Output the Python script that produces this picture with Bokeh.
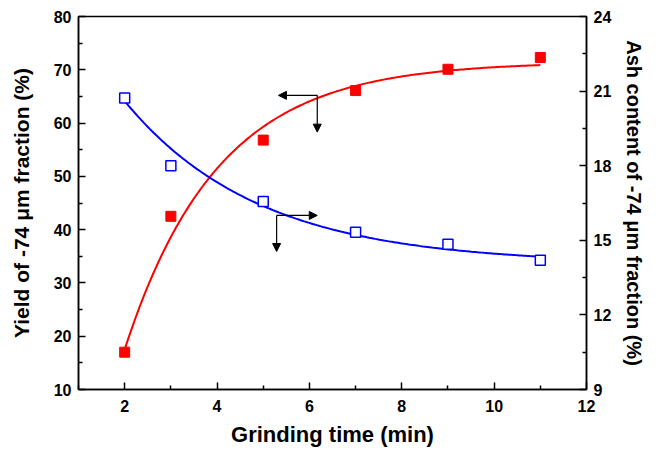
import numpy as np
from bokeh.plotting import figure
from bokeh.models import Range1d, LinearAxis, FixedTicker, Arrow, NormalHead, ColumnDataSource
from bokeh.embed import file_html
from bokeh.resources import INLINE

# ---- data ----
grinding_time = [2, 3, 5, 7, 9, 11]
yield_pct = [17.0, 42.5, 56.8, 66.1, 70.1, 72.3]          # left axis, red filled squares
ash_pct = [20.72, 18.0, 16.56, 15.32, 14.84, 14.2]        # right axis, blue open squares

# fitted exponential curves (parameters estimated from the drawn fit lines)
yield_fit = dict(A=71.5, B=54.0, k=0.496, x0=2.0)          # y = A - B*exp(-k(x-x0))
ash_fit = dict(C=14.05, D=6.55, m=0.345, x0=2.0)           # y = C + D*exp(-m(x-x0))

x_ticks = [2, 4, 6, 8, 10, 12]
x_minor = [1, 3, 5, 7, 9, 11]
left_ticks = [10, 20, 30, 40, 50, 60, 70, 80]
left_minor = [15, 25, 35, 45, 55, 65, 75]
right_ticks = [9, 12, 15, 18, 21, 24]
right_minor = [10.5, 13.5, 16.5, 19.5, 22.5]

FONT = "Liberation Sans"

p = figure(width=658, height=449, x_range=Range1d(1, 12), y_range=Range1d(10, 80),
           output_backend="svg", toolbar_location=None,
           min_border_left=78, min_border_right=72, min_border_top=16, min_border_bottom=58)
p.extra_y_ranges = {"ash": Range1d(9, 24)}
p.grid.visible = False
p.outline_line_color = "black"
p.outline_line_width = 1.5
p.background_fill_color = "white"
p.border_fill_color = "white"


def style_axis(ax, ticks, minor, title_size):
    ax.ticker = FixedTicker(ticks=ticks, minor_ticks=minor)
    ax.axis_line_color = "black"
    ax.axis_line_width = 1.5
    ax.major_tick_in = 7
    ax.major_tick_out = 0
    ax.minor_tick_in = 4
    ax.minor_tick_out = 0
    ax.major_tick_line_width = 1.5
    ax.minor_tick_line_width = 1.5
    ax.major_label_text_font = FONT
    ax.major_label_text_font_style = "bold"
    ax.major_label_text_font_size = "16px"
    ax.major_label_text_color = "black"
    ax.axis_label_text_font = FONT
    ax.axis_label_text_font_style = "bold"
    ax.axis_label_text_font_size = title_size
    ax.axis_label_text_color = "black"


xa = p.xaxis[0]
style_axis(xa, x_ticks, x_minor, "22px")
xa.axis_label = "Grinding time (min)"
xa.major_label_standoff = 10
xa.axis_label_standoff = 7

ya = p.yaxis[0]
style_axis(ya, left_ticks, left_minor, "21px")
ya.axis_label = "Yield of -74 μm fraction (%)"
ya.major_label_standoff = 7
ya.axis_label_standoff = 18

ra = LinearAxis(y_range_name="ash")
style_axis(ra, right_ticks, right_minor, "20px")
ra.axis_label = "Ash content of -74 μm fraction (%)"
ra.major_label_standoff = 7
ra.axis_label_standoff = 9
p.add_layout(ra, "right")

# fitted curves
xf = np.linspace(2, 11, 200)
yf = yield_fit["A"] - yield_fit["B"] * np.exp(-yield_fit["k"] * (xf - yield_fit["x0"]))
af = ash_fit["C"] + ash_fit["D"] * np.exp(-ash_fit["m"] * (xf - ash_fit["x0"]))
p.line(xf, yf, line_color="#ff0000", line_width=2)
p.line(xf, af, line_color="#0000ff", line_width=2, y_range_name="ash")

src = ColumnDataSource(dict(t=grinding_time, y=yield_pct, a=ash_pct))
p.scatter("t", "y", source=src, marker="square", size=10, fill_color="#ff0000", line_color="#ff0000")
p.scatter("t", "a", source=src, marker="square", size=10, fill_color="white", line_color="#0000ff",
          line_width=1.5, y_range_name="ash")

# pointer arrows (annotation positions)
head = lambda: NormalHead(size=8, fill_color="black", line_color="black", line_width=1)
# red curve -> left axis
p.add_layout(Arrow(x_start=6.17, y_start=65.2, x_end=5.33, y_end=65.2, end=head(),
                   line_color="black", line_width=1.2))
p.add_layout(Arrow(x_start=6.17, y_start=65.2, x_end=6.17, y_end=58.3, end=head(),
                   line_color="black", line_width=1.2))
# blue curve -> right axis
p.add_layout(Arrow(x_start=5.29, y_start=16.0, x_end=6.17, y_end=16.0, end=head(),
                   line_color="black", line_width=1.2, y_range_name="ash"))
p.add_layout(Arrow(x_start=5.29, y_start=16.0, x_end=5.29, y_end=14.55, end=head(),
                   line_color="black", line_width=1.2, y_range_name="ash"))

open("out.html", "w").write(file_html(p, INLINE))
